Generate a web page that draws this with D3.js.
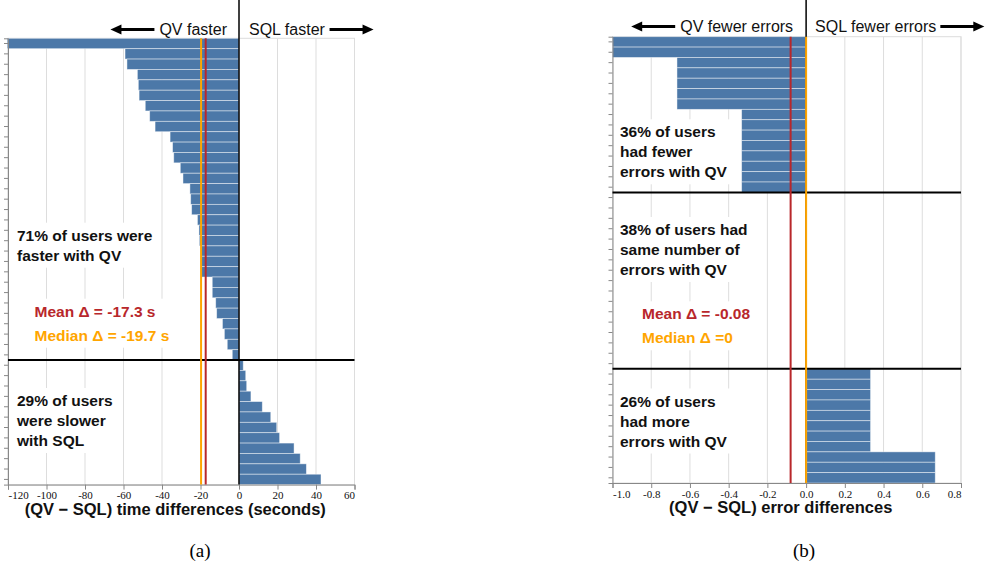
<!DOCTYPE html>
<html>
<head>
<meta charset="utf-8">
<script src="https://cdn.jsdelivr.net/npm/d3@7"></script>
<style>
  html, body { margin: 0; padding: 0; background: #fff; }
  svg { display: block; }
  .tick text { font-family: 'Liberation Serif', 'Times New Roman', serif !important; }
</style>
</head>
<body>
<svg id="chart" width="987" height="569"></svg>
<script>
// ---------------- DATA ----------------
// (a) per-user time differences, QV - SQL (seconds), sorted
const timeDiffs = [-120.4, -59.2, -58.2, -52.8, -52.3, -51.9, -48.7, -46.4, -43.6, -35.8,
  -34.5, -33.9, -30.5, -29.1, -25.5, -25.1, -24.6, -21.6, -20.8, -20.6,
  -19.7, -19.4, -19.4, -13.9, -13.9, -12.1, -11.6, -8.6, -7.6, -6.1,
  -3.5, 2.2, 3.5, 4.0, 6.2, 12.1, 16.5, 19.6, 21.1, 28.6,
  31.8, 35.0, 42.6];
const timeTicks = [-120, -100, -80, -60, -40, -20, 0, 20, 40, 60];
const timeTickLabels = ["-120", "-100", "-80", "-60", "-40", "-20", "0", "20", "40", "60"];
const timeMean = -17.3;
const timeMedian = -19.7;
const timeGroupBreaks = [31];

// (b) per-user error differences, QV - SQL, sorted
const errorDiffs = [-1, -1,
  -0.667, -0.667, -0.667, -0.667, -0.667,
  -0.333, -0.333, -0.333, -0.333, -0.333, -0.333, -0.333, -0.333,
  0, 0, 0, 0, 0, 0, 0, 0, 0, 0, 0, 0, 0, 0, 0, 0, 0,
  0.333, 0.333, 0.333, 0.333, 0.333, 0.333, 0.333, 0.333,
  0.667, 0.667, 0.667];
const errorTicks = [-1.0, -0.8, -0.6, -0.4, -0.2, 0.0, 0.2, 0.4, 0.6, 0.8];
const errorTickLabels = ["-1.0", "-0.8", "-0.6", "-0.4", "-0.2", "0.0", "0.2", "0.4", "0.6", "0.8"];
const errorMean = -0.08;
const errorMedian = 0;
const errorGroupBreaks = [15, 32];

// annotation texts
const timeHeaders = ["QV faster", "SQL faster"];
const errorHeaders = ["QV fewer errors", "SQL fewer errors"];
const timeNotes = [
  {lines: ["71% of users were", "faster with QV"], x: 17, y: 240.7},
  {lines: ["29% of users", "were slower", "with SQL"], x: 17, y: 406}
];
const errorNotes = [
  {lines: ["36% of users", "had fewer", "errors with QV"], x: 620, y: 137.3},
  {lines: ["38% of users had", "same number of", "errors with QV"], x: 620, y: 235},
  {lines: ["26% of users", "had more", "errors with QV"], x: 620, y: 406.5}
];
const timeStatText = ["Mean \u0394 = -17.3 s", "Median \u0394 = -19.7 s"];
const errorStatText = ["Mean \u0394 = -0.08", "Median \u0394 =0"];
const timeTitle = "(QV \u2212 SQL) time differences (seconds)";
const errorTitle = "(QV \u2212 SQL) error differences";
const captions = ["(a)", "(b)"];

// ---------------- STYLE ----------------
const BAR = "#4c78a8";
const RED = "#b8272b";
const ORANGE = "#ffa500";
const SANS = "'Liberation Sans', Arial, Helvetica, sans-serif";
const SERIF = "'Liberation Serif', 'Times New Roman', serif";

const svg = d3.select("#chart");

function arrow(g, x1, x2, y) {
  const dir = x2 > x1 ? 1 : -1;
  const head = 11, hw = 5;
  g.append("line").attr("x1", x1).attr("x2", x2 - dir * head + dir * 1).attr("y1", y).attr("y2", y)
    .attr("stroke", "#000").attr("stroke-width", 3);
  g.append("path")
    .attr("d", `M${x2},${y} L${x2 - dir * head},${y - hw} L${x2 - dir * head},${y + hw} Z`)
    .attr("fill", "#000");
}

function panel(cfg) {
  const g = svg.append("g");
  const x = d3.scaleLinear().domain(cfg.domain).range([cfg.left, cfg.right]);
  const y = d3.scaleBand().domain(d3.range(cfg.data.length)).range([cfg.top, cfg.bottom]).paddingInner(0);

  // view border
  g.append("rect").attr("x", cfg.left).attr("y", cfg.top)
    .attr("width", cfg.right - cfg.left).attr("height", cfg.bottom - cfg.top)
    .attr("fill", "none").attr("stroke", "#ddd");

  // gridlines
  g.append("g").selectAll("line").data(cfg.ticks).join("line")
    .attr("x1", d => x(d)).attr("x2", d => x(d))
    .attr("y1", cfg.top).attr("y2", cfg.bottom)
    .attr("stroke", "#ddd").attr("stroke-width", 1);

  const boxLayer = g.append("g");

  // bars
  g.append("g").selectAll("rect").data(cfg.data).join("rect")
    .attr("x", d => x(Math.min(0, d)))
    .attr("width", d => Math.abs(x(d) - x(0)))
    .attr("y", (d, i) => y(i))
    .attr("height", y.bandwidth())
    .attr("fill", BAR)
    .attr("stroke", "#fff").attr("stroke-width", 0.8).attr("stroke-opacity", 0.55);

  // x axis
  const xAxis = d3.axisBottom(x).tickValues(cfg.ticks).tickSize(5)
    .tickFormat((d, i) => cfg.tickLabels[i]);
  const ax = g.append("g").attr("transform", `translate(0,${cfg.bottom})`).call(xAxis);
  ax.attr("font-family", SERIF).attr("font-size", 11);
  ax.select(".domain").attr("stroke", "#888");
  ax.selectAll(".tick line").attr("stroke", "#888");
  ax.selectAll(".tick text").style("font-family", SERIF).attr("font-size", 11).attr("fill", "#111").attr("dy", "0.6em");
  const tt = ax.selectAll(".tick text").nodes();
  d3.select(tt[0]).attr("text-anchor", "start");
  d3.select(tt[tt.length - 1]).attr("text-anchor", "end");

  // y axis (ticks only)
  const yAxis = d3.axisLeft(y).tickSize(4).tickFormat("");
  const ay = g.append("g").attr("transform", `translate(${cfg.left},0)`).call(yAxis);
  ay.select(".domain").attr("stroke", "#888");
  ay.selectAll(".tick line").attr("stroke", "#888");

  // group separator lines
  g.append("g").selectAll("line").data(cfg.breaks).join("line")
    .attr("x1", cfg.left).attr("x2", cfg.right)
    .attr("y1", d => y(d)).attr("y2", d => y(d))
    .attr("stroke", "#000").attr("stroke-width", 2);

  // zero line
  g.append("line").attr("x1", x(0)).attr("x2", x(0)).attr("y1", 0).attr("y2", cfg.bottom)
    .attr("stroke", "#000").attr("stroke-width", 1.5);

  // mean / median lines
  g.append("line").attr("x1", x(cfg.mean)).attr("x2", x(cfg.mean)).attr("y1", cfg.top).attr("y2", cfg.bottom)
    .attr("stroke", RED).attr("stroke-width", 2);
  g.append("line").attr("x1", x(cfg.median)).attr("x2", x(cfg.median)).attr("y1", cfg.top).attr("y2", cfg.bottom)
    .attr("stroke", ORANGE).attr("stroke-width", 2);

  // text blocks with white boxes
  function block(lines, tx, ty, colors, lh) {
    const t = g.append("text").attr("font-family", SANS).attr("font-weight", "bold")
      .attr("font-size", 15.5);
    lines.forEach((s, i) => {
      t.append("tspan").attr("x", tx).attr("y", ty + i * lh).text(s)
        .attr("fill", colors ? colors[i] : "#111");
    });
    const b = t.node().getBBox();
    boxLayer.append("rect").attr("x", b.x - 6).attr("y", b.y - 4)
      .attr("width", b.width + 12).attr("height", b.height + 8).attr("fill", "#fff");
  }
  cfg.notes.forEach(n => block(n.lines, n.x, n.y, null, 20));
  block(cfg.statText, cfg.statX, cfg.statY, [RED, ORANGE], cfg.statLH);

  // headers
  const h1 = g.append("text").attr("x", x(0) - cfg.hGap1).attr("y", cfg.hY)
    .attr("text-anchor", "end").attr("font-family", SANS).attr("font-size", 16).attr("fill", "#111")
    .text(cfg.headers[0]);
  const h2 = g.append("text").attr("x", x(0) + cfg.hGap2).attr("y", cfg.hY)
    .attr("text-anchor", "start").attr("font-family", SANS).attr("font-size", 16).attr("fill", "#111")
    .text(cfg.headers[1]);
  const b1 = h1.node().getBBox(), b2 = h2.node().getBBox();
  const ay2 = cfg.hY - 5.5;
  arrow(g, b1.x - 5, b1.x - 5 - cfg.arrowLen, ay2);
  arrow(g, b2.x + b2.width + 4, b2.x + b2.width + 4 + cfg.arrowLen, ay2);

  // axis title
  g.append("text").attr("x", (cfg.left + cfg.right) / 2 - 6).attr("y", cfg.bottom + 30)
    .attr("text-anchor", "middle").attr("font-family", SANS).attr("font-weight", "bold")
    .attr("font-size", 16.5).attr("fill", "#111").text(cfg.title);

  // caption
  g.append("text").attr("x", cfg.capX).attr("y", 557).attr("text-anchor", "middle")
    .attr("font-family", SERIF).attr("font-size", 19).attr("fill", "#000").text(cfg.caption);
}

panel({
  data: timeDiffs, domain: [-120, 60], ticks: timeTicks, tickLabels: timeTickLabels,
  left: 8, right: 354.5, top: 38.3, bottom: 484.6,
  breaks: timeGroupBreaks, mean: timeMean, median: timeMedian,
  notes: timeNotes, statText: timeStatText, statX: 34.5, statY: 316.7, statLH: 24,
  headers: timeHeaders, hGap1: 12, hGap2: 10, hY: 35, arrowLen: 44,
  title: timeTitle, caption: captions[0], capX: 200
});

panel({
  data: errorDiffs, domain: [-1, 0.8], ticks: errorTicks, tickLabels: errorTickLabels,
  left: 612.5, right: 961, top: 36.7, bottom: 483,
  breaks: errorGroupBreaks, mean: errorMean, median: errorMedian,
  notes: errorNotes, statText: errorStatText, statX: 642, statY: 319.3, statLH: 24,
  headers: errorHeaders, hGap1: 13, hGap2: 9, hY: 32, arrowLen: 44,
  title: errorTitle, caption: captions[1], capX: 804
});
</script>
</body>
</html>
